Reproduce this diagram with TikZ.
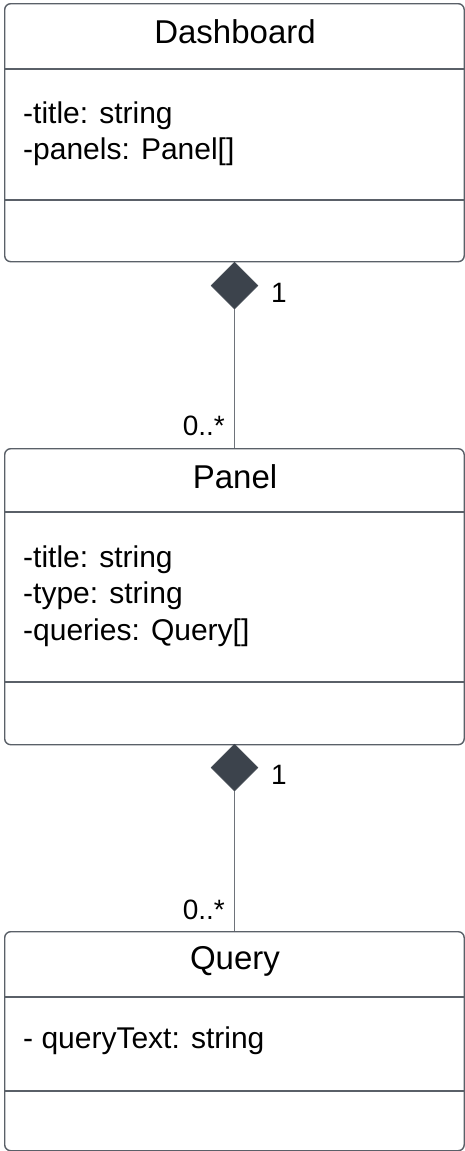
\documentclass[tikz,border=0pt]{standalone}
\usepackage{fontspec}
\setmainfont{Liberation Sans}
\usetikzlibrary{shapes.geometric}

\definecolor{umlborder}{HTML}{5A6068}
\definecolor{umlfill}{HTML}{3C434C}
\definecolor{umlline}{HTML}{6E737A}

\tikzset{
  classbox/.style={draw=umlborder, line width=1.4pt, rounded corners=6pt,
    anchor=north west, inner sep=0pt, minimum width=459.5pt},
  divider/.style={draw=umlborder, line width=1.4pt},
  classname/.style={anchor=base, inner sep=0pt, font=\fontsize{33}{38}\selectfont},
  attr/.style={anchor=base west, inner sep=0pt, font=\fontsize{30}{36}\selectfont},
  composite/.style={diamond, fill=umlfill, draw=umlfill, line width=0.5pt,
    inner sep=0pt, minimum width=47pt, minimum height=47pt},
  assoc/.style={draw=umlline, line width=1.5pt},
  mult/.style={inner sep=0pt, font=\fontsize{28}{32}\selectfont}
}

\begin{document}
\begin{tikzpicture}[x=1pt,y=-1pt]
\useasboundingbox (0,0) rectangle (465,1151);

% Dashboard class
\node[classbox, minimum height=258pt] (dash) at (4,3) {};
\draw[divider] (4,69) coordinate (dash-d1) -- (463.5,69);
\draw[divider] (4,200) coordinate (dash-d2) -- (463.5,200);
\node[classname] (dash-name) at (235,43) {Dashboard};
\node[attr] (dash-a1) at (23,123) {-title: string};
\node[attr] (dash-a2) at (23,159) {-panels: Panel[]};

% Panel class
\node[classbox, minimum height=296pt] (panel) at (4,448) {};
\draw[divider] (4,512) -- (463.5,512);
\draw[divider] (4,682) -- (463.5,682);
\node[classname] (panel-name) at (235,488) {Panel};
\node[attr] (panel-a1) at (23,567) {-title: string};
\node[attr] (panel-a2) at (23,603) {-type: string};
\node[attr] (panel-a3) at (23,640) {-queries: Query[]};

% Query class
\node[classbox, minimum height=219pt] (query) at (4,931) {};
\draw[divider] (4,997) -- (463.5,997);
\draw[divider] (4,1091) -- (463.5,1091);
\node[classname] (query-name) at (235,969) {Query};
\node[attr] (query-a1) at (23,1048) {- queryText: string};

% Dashboard <>-- Panel
\node[composite] (comp1) at (234.5,285.5) {};
\draw[assoc] (comp1.south) -- (comp1.south |- panel.north);
\node[mult] (m1a) at (279,293) {1};
\node[mult, anchor=base east] (m1b) at (225,435) {0..*};

% Panel <>-- Query
\node[composite] (comp2) at (234.5,767.5) {};
\draw[assoc] (comp2.south) -- (comp2.south |- query.north);
\node[mult] (m2a) at (279,775) {1};
\node[mult, anchor=base east] (m2b) at (225,919) {0..*};
\end{tikzpicture}
\end{document}
